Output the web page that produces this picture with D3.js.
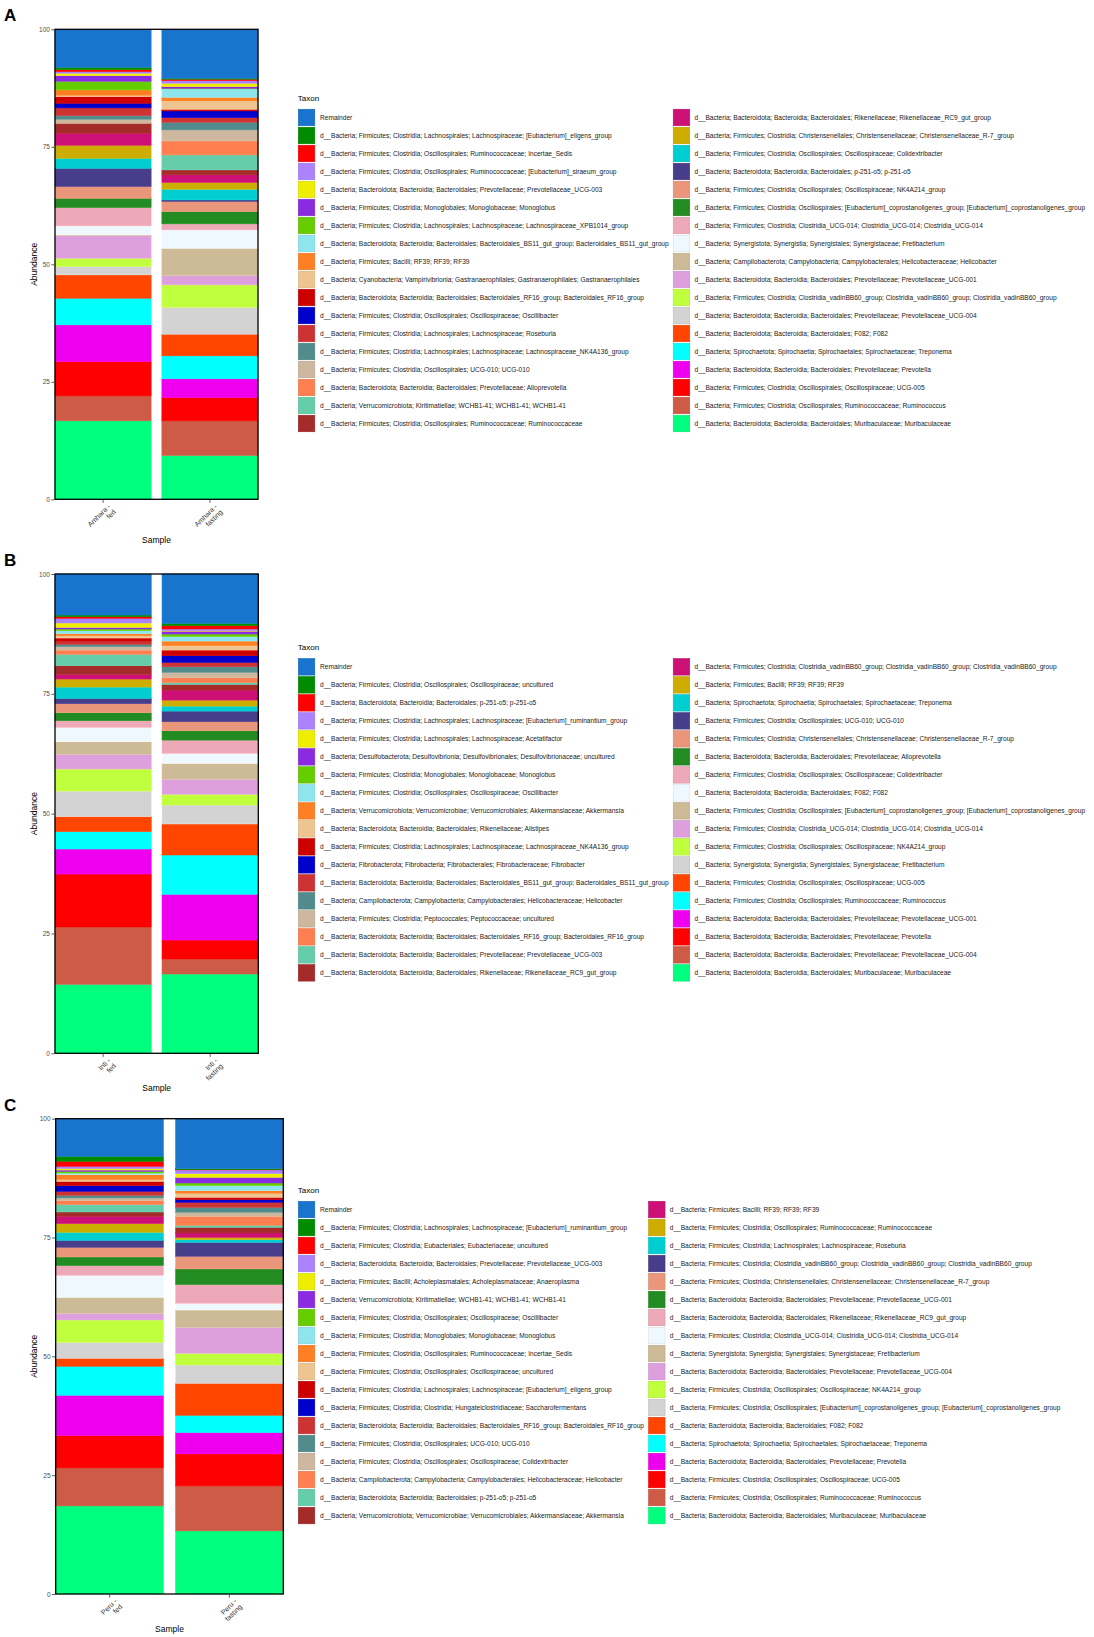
<!DOCTYPE html>
<html>
<head>
<meta charset="utf-8">
<script src="https://cdn.jsdelivr.net/npm/d3@7"></script>
<style>
  body { margin: 0; background: #fff; }
  text { font-family: "Liberation Sans", Arial, Helvetica, sans-serif; }
</style>
</head>
<body>
<div id="chart"></div>
<script>
// colours shared by the three panels (legend order, top of stack first)
const palette = [
  "#1874CD", "#008B00", "#FF0000", "#AB82FF", "#EEEE00", "#8A2BE2", "#66CD00", "#8EE5EE", "#FF7F24",
  "#EEC591", "#CD0000", "#0000CD", "#CD3333", "#528B8B", "#CDB79E", "#FF7F50", "#66CDAA", "#A52A2A",
  "#CD1076", "#CDAD00", "#00CED1", "#483D8B", "#E9967A", "#228B22", "#EEA9B8", "#F0F8FF", "#CDBA96",
  "#DDA0DD", "#C0FF3E", "#D3D3D3", "#FF4500", "#00FFFF", "#EE00EE", "#FF0000", "#CD5B45", "#00FF7F"
];
const yTicks = [0, 25, 50, 75, 100];

// ----- panel A -----
const samplesA = ["Amhara - fed", "Amhara - fasting"];
const taxaA = [
  "Remainder",
  "d__Bacteria; Firmicutes; Clostridia; Lachnospirales; Lachnospiraceae; [Eubacterium]_eligens_group",
  "d__Bacteria; Firmicutes; Clostridia; Oscillospirales; Ruminococcaceae; Incertae_Sedis",
  "d__Bacteria; Firmicutes; Clostridia; Oscillospirales; Ruminococcaceae; [Eubacterium]_siraeum_group",
  "d__Bacteria; Bacteroidota; Bacteroidia; Bacteroidales; Prevotellaceae; Prevotellaceae_UCG-003",
  "d__Bacteria; Firmicutes; Clostridia; Monoglobales; Monoglobaceae; Monoglobus",
  "d__Bacteria; Firmicutes; Clostridia; Lachnospirales; Lachnospiraceae; Lachnospiraceae_XPB1014_group",
  "d__Bacteria; Bacteroidota; Bacteroidia; Bacteroidales; Bacteroidales_BS11_gut_group; Bacteroidales_BS11_gut_group",
  "d__Bacteria; Firmicutes; Bacilli; RF39; RF39; RF39",
  "d__Bacteria; Cyanobacteria; Vampirivibrionia; Gastranaerophilales; Gastranaerophilales; Gastranaerophilales",
  "d__Bacteria; Bacteroidota; Bacteroidia; Bacteroidales; Bacteroidales_RF16_group; Bacteroidales_RF16_group",
  "d__Bacteria; Firmicutes; Clostridia; Oscillospirales; Oscillospiraceae; Oscillibacter",
  "d__Bacteria; Firmicutes; Clostridia; Lachnospirales; Lachnospiraceae; Roseburia",
  "d__Bacteria; Firmicutes; Clostridia; Lachnospirales; Lachnospiraceae; Lachnospiraceae_NK4A136_group",
  "d__Bacteria; Firmicutes; Clostridia; Oscillospirales; UCG-010; UCG-010",
  "d__Bacteria; Bacteroidota; Bacteroidia; Bacteroidales; Prevotellaceae; Alloprevotella",
  "d__Bacteria; Verrucomicrobiota; Kiritimatiellae; WCHB1-41; WCHB1-41; WCHB1-41",
  "d__Bacteria; Firmicutes; Clostridia; Oscillospirales; Ruminococcaceae; Ruminococcaceae",
  "d__Bacteria; Bacteroidota; Bacteroidia; Bacteroidales; Rikenellaceae; Rikenellaceae_RC9_gut_group",
  "d__Bacteria; Firmicutes; Clostridia; Christensenellales; Christensenellaceae; Christensenellaceae_R-7_group",
  "d__Bacteria; Firmicutes; Clostridia; Oscillospirales; Oscillospiraceae; Colidextribacter",
  "d__Bacteria; Bacteroidota; Bacteroidia; Bacteroidales; p-251-o5; p-251-o5",
  "d__Bacteria; Firmicutes; Clostridia; Oscillospirales; Oscillospiraceae; NK4A214_group",
  "d__Bacteria; Firmicutes; Clostridia; Oscillospirales; [Eubacterium]_coprostanoligenes_group; [Eubacterium]_coprostanoligenes_group",
  "d__Bacteria; Firmicutes; Clostridia; Clostridia_UCG-014; Clostridia_UCG-014; Clostridia_UCG-014",
  "d__Bacteria; Synergistota; Synergistia; Synergistales; Synergistaceae; Fretibacterium",
  "d__Bacteria; Campilobacterota; Campylobacteria; Campylobacterales; Helicobacteraceae; Helicobacter",
  "d__Bacteria; Bacteroidota; Bacteroidia; Bacteroidales; Prevotellaceae; Prevotellaceae_UCG-001",
  "d__Bacteria; Firmicutes; Clostridia; Clostridia_vadinBB60_group; Clostridia_vadinBB60_group; Clostridia_vadinBB60_group",
  "d__Bacteria; Bacteroidota; Bacteroidia; Bacteroidales; Prevotellaceae; Prevotellaceae_UCG-004",
  "d__Bacteria; Bacteroidota; Bacteroidia; Bacteroidales; F082; F082",
  "d__Bacteria; Spirochaetota; Spirochaetia; Spirochaetales; Spirochaetaceae; Treponema",
  "d__Bacteria; Bacteroidota; Bacteroidia; Bacteroidales; Prevotellaceae; Prevotella",
  "d__Bacteria; Firmicutes; Clostridia; Oscillospirales; Oscillospiraceae; UCG-005",
  "d__Bacteria; Firmicutes; Clostridia; Oscillospirales; Ruminococcaceae; Ruminococcus",
  "d__Bacteria; Bacteroidota; Bacteroidia; Bacteroidales; Muribaculaceae; Muribaculaceae"
];
const fedA = [8.08, 0.50, 0.42, 0.36, 0.50, 1.20, 1.84, 0, 1.14, 0.28, 1.42, 0.99, 1.63, 0.78, 0.86, 0, 0, 2.12,
  2.55, 2.77, 2.13, 3.89, 2.49, 1.98, 3.90, 1.91, 0.16, 4.81, 1.77, 1.77, 4.97, 5.67, 7.80, 7.31, 5.31, 16.69];
const fastA = [10.42, 0.21, 0.29, 0.57, 0.70, 0.36, 0.14, 1.77, 0.78, 1.78, 0.35, 1.42, 0.99, 1.63, 2.34, 2.98, 3.19, 1.06,
  1.63, 1.42, 2.27, 0.35, 2.13, 2.62, 1.28, 3.90, 5.81, 1.99, 4.75, 5.74, 4.61, 4.89, 3.97, 4.97, 7.37, 9.32];

// ----- panel B -----
const samplesB = ["Inti - fed", "Inti - fasting"];
const taxaB = [
  "Remainder",
  "d__Bacteria; Firmicutes; Clostridia; Oscillospirales; Oscillospiraceae; uncultured",
  "d__Bacteria; Bacteroidota; Bacteroidia; Bacteroidales; p-251-o5; p-251-o5",
  "d__Bacteria; Firmicutes; Clostridia; Lachnospirales; Lachnospiraceae; [Eubacterium]_ruminantium_group",
  "d__Bacteria; Firmicutes; Clostridia; Lachnospirales; Lachnospiraceae; Acetatifactor",
  "d__Bacteria; Desulfobacterota; Desulfovibrionia; Desulfovibrionales; Desulfovibrionaceae; uncultured",
  "d__Bacteria; Firmicutes; Clostridia; Monoglobales; Monoglobaceae; Monoglobus",
  "d__Bacteria; Firmicutes; Clostridia; Oscillospirales; Oscillospiraceae; Oscillibacter",
  "d__Bacteria; Verrucomicrobiota; Verrucomicrobiae; Verrucomicrobiales; Akkermansiaceae; Akkermansia",
  "d__Bacteria; Bacteroidota; Bacteroidia; Bacteroidales; Rikenellaceae; Alistipes",
  "d__Bacteria; Firmicutes; Clostridia; Lachnospirales; Lachnospiraceae; Lachnospiraceae_NK4A136_group",
  "d__Bacteria; Fibrobacterota; Fibrobacteria; Fibrobacterales; Fibrobacteraceae; Fibrobacter",
  "d__Bacteria; Bacteroidota; Bacteroidia; Bacteroidales; Bacteroidales_BS11_gut_group; Bacteroidales_BS11_gut_group",
  "d__Bacteria; Campilobacterota; Campylobacteria; Campylobacterales; Helicobacteraceae; Helicobacter",
  "d__Bacteria; Firmicutes; Clostridia; Peptococcales; Peptococcaceae; uncultured",
  "d__Bacteria; Bacteroidota; Bacteroidia; Bacteroidales; Bacteroidales_RF16_group; Bacteroidales_RF16_group",
  "d__Bacteria; Bacteroidota; Bacteroidia; Bacteroidales; Prevotellaceae; Prevotellaceae_UCG-003",
  "d__Bacteria; Bacteroidota; Bacteroidia; Bacteroidales; Rikenellaceae; Rikenellaceae_RC9_gut_group",
  "d__Bacteria; Firmicutes; Clostridia; Clostridia_vadinBB60_group; Clostridia_vadinBB60_group; Clostridia_vadinBB60_group",
  "d__Bacteria; Firmicutes; Bacilli; RF39; RF39; RF39",
  "d__Bacteria; Spirochaetota; Spirochaetia; Spirochaetales; Spirochaetaceae; Treponema",
  "d__Bacteria; Firmicutes; Clostridia; Oscillospirales; UCG-010; UCG-010",
  "d__Bacteria; Firmicutes; Clostridia; Christensenellales; Christensenellaceae; Christensenellaceae_R-7_group",
  "d__Bacteria; Bacteroidota; Bacteroidia; Bacteroidales; Prevotellaceae; Alloprevotella",
  "d__Bacteria; Firmicutes; Clostridia; Oscillospirales; Oscillospiraceae; Colidextribacter",
  "d__Bacteria; Bacteroidota; Bacteroidia; Bacteroidales; F082; F082",
  "d__Bacteria; Firmicutes; Clostridia; Oscillospirales; [Eubacterium]_coprostanoligenes_group; [Eubacterium]_coprostanoligenes_group",
  "d__Bacteria; Firmicutes; Clostridia; Clostridia_UCG-014; Clostridia_UCG-014; Clostridia_UCG-014",
  "d__Bacteria; Firmicutes; Clostridia; Oscillospirales; Oscillospiraceae; NK4A214_group",
  "d__Bacteria; Synergistota; Synergistia; Synergistales; Synergistaceae; Fretibacterium",
  "d__Bacteria; Firmicutes; Clostridia; Oscillospirales; Oscillospiraceae; UCG-005",
  "d__Bacteria; Firmicutes; Clostridia; Oscillospirales; Ruminococcaceae; Ruminococcus",
  "d__Bacteria; Bacteroidota; Bacteroidia; Bacteroidales; Prevotellaceae; Prevotellaceae_UCG-001",
  "d__Bacteria; Bacteroidota; Bacteroidia; Bacteroidales; Prevotellaceae; Prevotella",
  "d__Bacteria; Bacteroidota; Bacteroidia; Bacteroidales; Prevotellaceae; Prevotellaceae_UCG-004",
  "d__Bacteria; Bacteroidota; Bacteroidia; Bacteroidales; Muribaculaceae; Muribaculaceae"
];
const fedB = [8.56, 0.35, 0.35, 0.97, 0.91, 0.34, 0.35, 0.63, 0.42, 0.48, 0.63, 0, 0.70, 0.48, 0.70, 0.90, 2.37, 1.81,
  0.97, 1.67, 2.37, 1.11, 1.88, 1.67, 1.40, 2.99, 2.62, 3.06, 4.59, 5.35, 3.13, 3.62, 5.22, 11.05, 11.97, 14.38];
const fastB = [10.30, 0.49, 0.69, 0.35, 0.10, 0.60, 0.55, 0.91, 0.97, 0.91, 1.18, 1.39, 0.91, 1.18, 1.11, 1.05, 0.35, 1.18,
  2.09, 1.25, 1.04, 2.23, 1.88, 1.95, 2.78, 2.07, 3.33, 3.13, 2.23, 3.96, 6.47, 8.21, 9.53, 3.96, 3.13, 16.54];

// ----- panel C -----
const samplesC = ["Peru - fed", "Peru - fasting"];
const taxaC = [
  "Remainder",
  "d__Bacteria; Firmicutes; Clostridia; Lachnospirales; Lachnospiraceae; [Eubacterium]_ruminantium_group",
  "d__Bacteria; Firmicutes; Clostridia; Eubacteriales; Eubacteriaceae; uncultured",
  "d__Bacteria; Bacteroidota; Bacteroidia; Bacteroidales; Prevotellaceae; Prevotellaceae_UCG-003",
  "d__Bacteria; Firmicutes; Bacilli; Acholeplasmatales; Acholeplasmataceae; Anaeroplasma",
  "d__Bacteria; Verrucomicrobiota; Kiritimatiellae; WCHB1-41; WCHB1-41; WCHB1-41",
  "d__Bacteria; Firmicutes; Clostridia; Oscillospirales; Oscillospiraceae; Oscillibacter",
  "d__Bacteria; Firmicutes; Clostridia; Monoglobales; Monoglobaceae; Monoglobus",
  "d__Bacteria; Firmicutes; Clostridia; Oscillospirales; Ruminococcaceae; Incertae_Sedis",
  "d__Bacteria; Firmicutes; Clostridia; Oscillospirales; Oscillospiraceae; uncultured",
  "d__Bacteria; Firmicutes; Clostridia; Lachnospirales; Lachnospiraceae; [Eubacterium]_eligens_group",
  "d__Bacteria; Firmicutes; Clostridia; Clostridia; Hungateiclostridiaceae; Saccharofermentans",
  "d__Bacteria; Bacteroidota; Bacteroidia; Bacteroidales; Bacteroidales_RF16_group; Bacteroidales_RF16_group",
  "d__Bacteria; Firmicutes; Clostridia; Oscillospirales; UCG-010; UCG-010",
  "d__Bacteria; Firmicutes; Clostridia; Oscillospirales; Oscillospiraceae; Colidextribacter",
  "d__Bacteria; Campilobacterota; Campylobacteria; Campylobacterales; Helicobacteraceae; Helicobacter",
  "d__Bacteria; Bacteroidota; Bacteroidia; Bacteroidales; p-251-o5; p-251-o5",
  "d__Bacteria; Verrucomicrobiota; Verrucomicrobiae; Verrucomicrobiales; Akkermansiaceae; Akkermansia",
  "d__Bacteria; Firmicutes; Bacilli; RF39; RF39; RF39",
  "d__Bacteria; Firmicutes; Clostridia; Oscillospirales; Ruminococcaceae; Ruminococcaceae",
  "d__Bacteria; Firmicutes; Clostridia; Lachnospirales; Lachnospiraceae; Roseburia",
  "d__Bacteria; Firmicutes; Clostridia; Clostridia_vadinBB60_group; Clostridia_vadinBB60_group; Clostridia_vadinBB60_group",
  "d__Bacteria; Firmicutes; Clostridia; Christensenellales; Christensenellaceae; Christensenellaceae_R-7_group",
  "d__Bacteria; Bacteroidota; Bacteroidia; Bacteroidales; Prevotellaceae; Prevotellaceae_UCG-001",
  "d__Bacteria; Bacteroidota; Bacteroidia; Bacteroidales; Rikenellaceae; Rikenellaceae_RC9_gut_group",
  "d__Bacteria; Firmicutes; Clostridia; Clostridia_UCG-014; Clostridia_UCG-014; Clostridia_UCG-014",
  "d__Bacteria; Synergistota; Synergistia; Synergistales; Synergistaceae; Fretibacterium",
  "d__Bacteria; Bacteroidota; Bacteroidia; Bacteroidales; Prevotellaceae; Prevotellaceae_UCG-004",
  "d__Bacteria; Firmicutes; Clostridia; Oscillospirales; Oscillospiraceae; NK4A214_group",
  "d__Bacteria; Firmicutes; Clostridia; Oscillospirales; [Eubacterium]_coprostanoligenes_group; [Eubacterium]_coprostanoligenes_group",
  "d__Bacteria; Bacteroidota; Bacteroidia; Bacteroidales; F082; F082",
  "d__Bacteria; Spirochaetota; Spirochaetia; Spirochaetales; Spirochaetaceae; Treponema",
  "d__Bacteria; Bacteroidota; Bacteroidia; Bacteroidales; Prevotellaceae; Prevotella",
  "d__Bacteria; Firmicutes; Clostridia; Oscillospirales; Oscillospiraceae; UCG-005",
  "d__Bacteria; Firmicutes; Clostridia; Oscillospirales; Ruminococcaceae; Ruminococcus",
  "d__Bacteria; Bacteroidota; Bacteroidia; Bacteroidales; Muribaculaceae; Muribaculaceae"
];
const fedC = [7.92, 1.05, 1.05, 0.49, 0.29, 0.28, 0.35, 0.35, 1.05, 0.35, 0.91, 1.19, 0.84, 0.56, 0.56, 0.85, 1.54, 0.91,
  1.54, 1.82, 1.69, 1.47, 2.03, 1.82, 2.04, 4.63, 3.37, 1.40, 4.70, 3.36, 1.68, 6.10, 8.48, 6.80, 8.00, 18.53];
const fastC = [10.51, 0.22, 0.05, 0.79, 0.77, 1.19, 0.56, 1.05, 0.56, 0.84, 0.49, 0.57, 1.05, 1.05, 0.84, 1.89, 0.42, 1.19,
  0.92, 0.49, 0.56, 2.94, 2.66, 3.30, 3.93, 1.41, 3.64, 5.47, 2.45, 3.86, 6.73, 3.64, 4.49, 6.73, 9.46, 13.28];

// layout of each panel (plot box in page pixels)
const panels = [
  { letter: "A", samples: samplesA, taxa: taxaA, values: [fedA, fastA], x0: 55, x1: 258, y0: 29.3, y1: 499.3, sampleGap: 44 },
  { letter: "B", samples: samplesB, taxa: taxaB, values: [fedB, fastB], x0: 55, x1: 258.3, y0: 574, y1: 1053.3, sampleGap: 38 },
  { letter: "C", samples: samplesC, taxa: taxaC, values: [fedC, fastC], x0: 55.7, x1: 283.3, y0: 1118.7, y1: 1594, sampleGap: 38 }
];

const width = 1094, height = 1637;
const svg = d3.select("#chart").append("svg")
  .attr("width", width)
  .attr("height", height);

panels.forEach(drawPanel);

function drawPanel(p) {
  const g = svg.append("g");

  // one row per sample, one column per taxon
  const table = p.samples.map((s, i) => {
    const row = { sample: s };
    p.taxa.forEach((t, j) => { row[t] = p.values[i][j]; });
    return row;
  });
  // stack from the bottom: last legend entry sits at the bottom
  const keys = p.taxa.slice().reverse();
  const series = d3.stack().keys(keys)(table);

  const color = d3.scaleOrdinal().domain(p.taxa).range(palette);
  const x = d3.scaleBand().domain(p.samples).range([p.x0, p.x1]).paddingInner(0.1).paddingOuter(0);
  const y = d3.scaleLinear().domain([0, 100]).range([p.y1, p.y0]);

  // bars
  g.append("g").selectAll("g")
    .data(series)
    .join("g")
    .attr("fill", d => color(d.key))
    .attr("stroke", d => d3.color(color(d.key)).brighter(0.25))
    .attr("stroke-width", 0.5)
    .selectAll("rect")
    .data(d => d)
    .join("rect")
    .attr("x", d => x(d.data.sample))
    .attr("width", x.bandwidth())
    .attr("y", d => y(d[1]))
    .attr("height", d => Math.max(0, y(d[0]) - y(d[1])));

  // panel border
  g.append("rect")
    .attr("x", p.x0).attr("y", p.y0)
    .attr("width", p.x1 - p.x0).attr("height", p.y1 - p.y0)
    .attr("fill", "none").attr("stroke", "#000").attr("stroke-width", 1.3);

  // y axis
  const yAxis = g.append("g")
    .attr("transform", `translate(${p.x0 - 0.6},0)`)
    .call(d3.axisLeft(y).tickValues(yTicks).tickSize(3).tickPadding(1.5));
  yAxis.select(".domain").remove();
  yAxis.selectAll("line").attr("stroke", "#333").attr("stroke-width", 0.8);
  yAxis.selectAll("text").attr("fill", "#4d4d4d").style("font-size", "6.5px")
    .style("font-family", '"Liberation Sans", Arial, sans-serif');

  // x ticks and wrapped, rotated labels
  const xt = g.append("g").selectAll("g")
    .data(p.samples)
    .join("g")
    .attr("transform", d => `translate(${x(d) + x.bandwidth() / 2},${p.y1})`);
  xt.append("line").attr("y1", 0.6).attr("y2", 3.6).attr("stroke", "#333").attr("stroke-width", 0.8);
  const lab = xt.append("text")
    .attr("transform", "translate(4,4) rotate(-45)")
    .attr("text-anchor", "end")
    .attr("fill", "#333")
    .style("font-size", "7px");
  lab.append("tspan").attr("x", 0).attr("dy", "0.75em").text(d => d.split(" - ")[0] + " -");
  lab.append("tspan").attr("x", 0).attr("dy", "1.1em").text(d => d.split(" - ")[1]);

  // axis titles
  g.append("text")
    .attr("x", (p.x0 + p.x1) / 2)
    .attr("y", p.y1 + p.sampleGap)
    .attr("text-anchor", "middle")
    .style("font-size", "8.5px")
    .text("Sample");
  g.append("text")
    .attr("transform", `translate(37,${(p.y0 + p.y1) / 2}) rotate(-90)`)
    .attr("text-anchor", "middle")
    .style("font-size", "8.5px")
    .text("Abundance");

  // panel letter
  g.append("text")
    .attr("x", 4)
    .attr("y", p.y0 - 8)
    .style("font-size", "17px")
    .style("font-weight", "bold")
    .text(p.letter);

  // legend: two columns of 18 entries
  const rowH = 18, keyS = 16.5, fs = "6.6px";
  const firstRow = (p.y0 + p.y1) / 2 - 146.8;
  const keyX = 298.3;
  g.append("text")
    .attr("x", keyX - 0.5)
    .attr("y", firstRow - 16.5)
    .style("font-size", "8px")
    .text("Taxon");

  const nRows = 18;
  const leftItems = g.append("g").selectAll("g")
    .data(p.taxa.slice(0, nRows))
    .join("g")
    .attr("transform", (d, i) => `translate(${keyX},${firstRow + i * rowH})`);
  leftItems.append("rect")
    .attr("x", 0).attr("y", -keyS / 2).attr("width", keyS).attr("height", keyS)
    .attr("fill", d => color(d))
    .attr("stroke", d => d3.color(color(d)).darker(0.3))
    .attr("stroke-width", 0.6);
  const leftText = leftItems.append("text")
    .attr("x", 21.7).attr("dy", "0.35em")
    .style("font-size", fs)
    .attr("fill", "#1a1a1a")
    .text(d => d);

  let maxEnd = 0;
  leftText.each(function() { maxEnd = Math.max(maxEnd, this.getComputedTextLength()); });
  const keyX2 = keyX + 21.7 + maxEnd + 4.5;

  const rightItems = g.append("g").selectAll("g")
    .data(p.taxa.slice(nRows))
    .join("g")
    .attr("transform", (d, i) => `translate(${keyX2},${firstRow + i * rowH})`);
  rightItems.append("rect")
    .attr("x", 0).attr("y", -keyS / 2).attr("width", keyS).attr("height", keyS)
    .attr("fill", d => color(d))
    .attr("stroke", d => d3.color(color(d)).darker(0.3))
    .attr("stroke-width", 0.6);
  rightItems.append("text")
    .attr("x", 21.2).attr("dy", "0.35em")
    .style("font-size", fs)
    .attr("fill", "#1a1a1a")
    .text(d => d);
}
</script>
</body>
</html>
